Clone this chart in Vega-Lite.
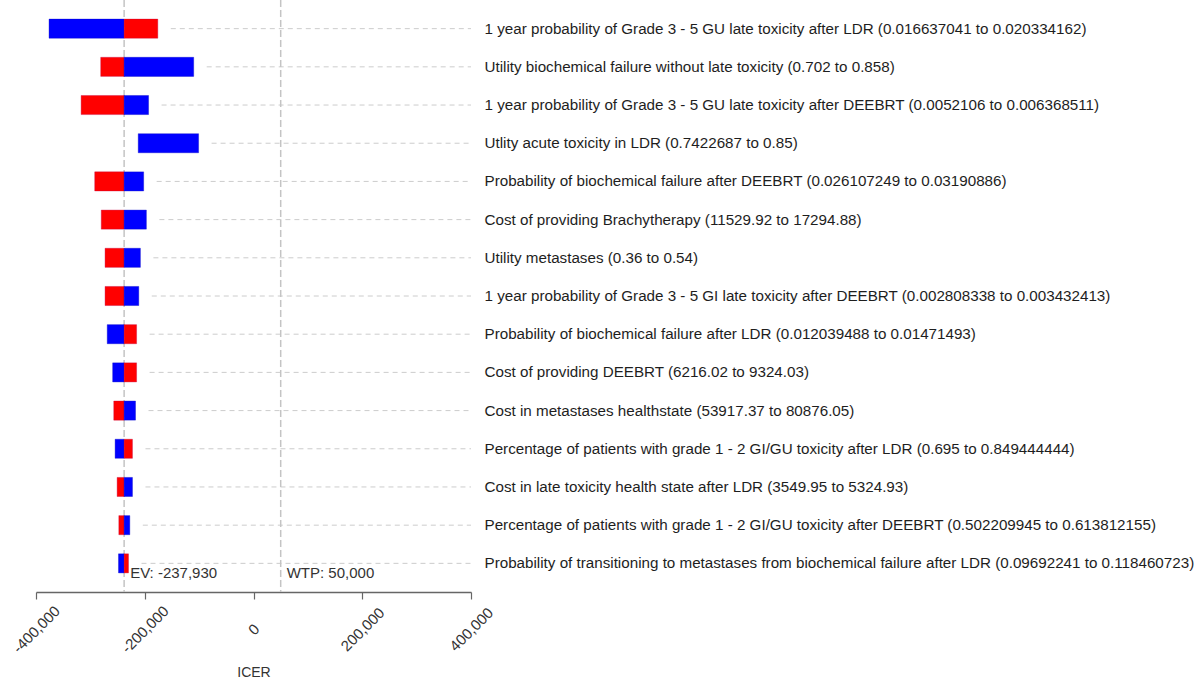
{
  "$schema": "https://vega.github.io/schema/vega-lite/v6.json",
  "width": 435,
  "height": 592,
  "autosize": {"type": "none"},
  "padding": {"left": 36, "top": 0, "right": 731, "bottom": 89},
  "background": "white",
  "config": {"view": {"stroke": null}, "font": "Liberation Sans"},
  "datasets": {
    "bars": [
      {"param": "1 year probability of Grade 3 - 5 GU late toxicity after LDR (0.016637041 to 0.020334162)", "side": "blue", "lo": -376000, "hi": -237930},
      {"param": "1 year probability of Grade 3 - 5 GU late toxicity after LDR (0.016637041 to 0.020334162)", "side": "red", "lo": -237930, "hi": -176000},
      {"param": "Utility biochemical failure without late toxicity (0.702 to 0.858)", "side": "red", "lo": -281000, "hi": -237930},
      {"param": "Utility biochemical failure without late toxicity (0.702 to 0.858)", "side": "blue", "lo": -237930, "hi": -110000},
      {"param": "1 year probability of Grade 3 - 5 GU late toxicity after DEEBRT (0.0052106 to 0.006368511)", "side": "red", "lo": -317000, "hi": -237930},
      {"param": "1 year probability of Grade 3 - 5 GU late toxicity after DEEBRT (0.0052106 to 0.006368511)", "side": "blue", "lo": -237930, "hi": -193000},
      {"param": "Utlity acute toxicity in LDR (0.7422687 to 0.85)", "side": "blue", "lo": -212000, "hi": -101000},
      {"param": "Probability of biochemical failure after DEEBRT (0.026107249 to 0.03190886)", "side": "red", "lo": -292000, "hi": -237930},
      {"param": "Probability of biochemical failure after DEEBRT (0.026107249 to 0.03190886)", "side": "blue", "lo": -237930, "hi": -202000},
      {"param": "Cost of providing Brachytherapy (11529.92 to 17294.88)", "side": "red", "lo": -280000, "hi": -237930},
      {"param": "Cost of providing Brachytherapy (11529.92 to 17294.88)", "side": "blue", "lo": -237930, "hi": -197000},
      {"param": "Utility metastases (0.36 to 0.54)", "side": "red", "lo": -273000, "hi": -237930},
      {"param": "Utility metastases (0.36 to 0.54)", "side": "blue", "lo": -237930, "hi": -208000},
      {"param": "1 year probability of Grade 3 - 5 GI late toxicity after DEEBRT (0.002808338 to 0.003432413)", "side": "red", "lo": -273000, "hi": -237930},
      {"param": "1 year probability of Grade 3 - 5 GI late toxicity after DEEBRT (0.002808338 to 0.003432413)", "side": "blue", "lo": -237930, "hi": -211000},
      {"param": "Probability of biochemical failure after LDR (0.012039488 to 0.01471493)", "side": "blue", "lo": -269000, "hi": -237930},
      {"param": "Probability of biochemical failure after LDR (0.012039488 to 0.01471493)", "side": "red", "lo": -237930, "hi": -215000},
      {"param": "Cost of providing DEEBRT (6216.02 to 9324.03)", "side": "blue", "lo": -259000, "hi": -237930},
      {"param": "Cost of providing DEEBRT (6216.02 to 9324.03)", "side": "red", "lo": -237930, "hi": -215000},
      {"param": "Cost in metastases healthstate (53917.37 to 80876.05)", "side": "red", "lo": -257000, "hi": -237930},
      {"param": "Cost in metastases healthstate (53917.37 to 80876.05)", "side": "blue", "lo": -237930, "hi": -217000},
      {"param": "Percentage of patients with grade 1 - 2 GI/GU toxicity after LDR (0.695 to 0.849444444)", "side": "blue", "lo": -254500, "hi": -237930},
      {"param": "Percentage of patients with grade 1 - 2 GI/GU toxicity after LDR (0.695 to 0.849444444)", "side": "red", "lo": -237930, "hi": -222600},
      {"param": "Cost in late toxicity health state after LDR (3549.95 to 5324.93)", "side": "red", "lo": -250800, "hi": -237930},
      {"param": "Cost in late toxicity health state after LDR (3549.95 to 5324.93)", "side": "blue", "lo": -237930, "hi": -222600},
      {"param": "Percentage of patients with grade 1 - 2 GI/GU toxicity after DEEBRT (0.502209945 to 0.613812155)", "side": "red", "lo": -247700, "hi": -237930},
      {"param": "Percentage of patients with grade 1 - 2 GI/GU toxicity after DEEBRT (0.502209945 to 0.613812155)", "side": "blue", "lo": -237930, "hi": -227500},
      {"param": "Probability of transitioning to metastases from biochemical failure after LDR (0.09692241 to 0.118460723)", "side": "blue", "lo": -248300, "hi": -237930},
      {"param": "Probability of transitioning to metastases from biochemical failure after LDR (0.09692241 to 0.118460723)", "side": "red", "lo": -237930, "hi": -229900}
    ],
    "refs": [
      {"label": "EV: -237,930", "x": -237930},
      {"label": "WTP: 50,000", "x": 50000}
    ]
  },
  "layer": [
    {
      "data": {"name": "bars"},
      "transform": [{"aggregate": [{"op": "max", "field": "hi", "as": "maxhi"}], "groupby": ["param"]}],
      "mark": {"type": "rule", "strokeDash": [5, 4], "color": "#cccccc", "strokeWidth": 1, "xOffset": 13},
      "encoding": {
        "y": {"field": "param", "type": "nominal", "sort": null},
        "x": {"field": "maxhi", "type": "quantitative"},
        "x2": {"datum": 400000}
      }
    },
    {
      "data": {"name": "refs"},
      "mark": {"type": "rule", "strokeDash": [7, 3], "color": "#c4c4c4", "strokeWidth": 1.5},
      "encoding": {
        "x": {"field": "x", "type": "quantitative"}
      }
    },
    {
      "data": {"name": "bars"},
      "mark": {"type": "bar", "strokeWidth": 0.6, "strokeOpacity": 0.6},
      "encoding": {
        "y": {"field": "param", "type": "nominal", "sort": null,
              "scale": {"paddingInner": 0.5, "paddingOuter": 0.5},
              "axis": {"orient": "right", "title": null, "ticks": false, "domain": false, "labelPadding": 13, "labelFontSize": 15.2, "labelColor": "#1e1e1e", "labelLimit": 0, "labelFont": "Liberation Sans"}},
        "x": {"field": "lo", "type": "quantitative",
              "scale": {"domain": [-400000, 400000], "nice": false, "zero": false},
              "axis": {"values": [-400000, -200000, 0, 200000, 400000], "labelExpr": "replace(format(datum.value, ',.0f'), '\u2212', '-')", "grid": false,
                       "labelAngle": -45, "labelAlign": "center", "labelBaseline": "middle", "labelPadding": 30,
                       "labelFontSize": 15, "labelColor": "#333333", "labelFont": "Liberation Sans",
                       "domainColor": "#666666", "domainWidth": 1.5, "tickColor": "#666666", "tickSize": 7, "tickWidth": 1.2,
                       "title": "ICER", "titleFontWeight": "normal", "titleFontSize": 14, "titleColor": "#333333", "titleFont": "Liberation Sans", "titlePadding": 10}},
        "x2": {"field": "hi"},
        "color": {"field": "side", "type": "nominal", "scale": {"domain": ["red", "blue"], "range": ["#ff0000", "#0000ff"]}, "legend": null},
        "stroke": {"field": "side", "type": "nominal", "scale": {"domain": ["red", "blue"], "range": ["#c00040", "#0000c0"]}, "legend": null}
      }
    },
    {
      "data": {"name": "refs"},
      "mark": {"type": "text", "align": "left", "baseline": "middle", "dx": 6, "dy": 10, "fontSize": 15, "color": "#333333", "font": "Liberation Sans"},
      "encoding": {
        "x": {"field": "x", "type": "quantitative"},
        "y": {"datum": "Probability of transitioning to metastases from biochemical failure after LDR (0.09692241 to 0.118460723)"},
        "text": {"field": "label"}
      }
    }
  ]
}
